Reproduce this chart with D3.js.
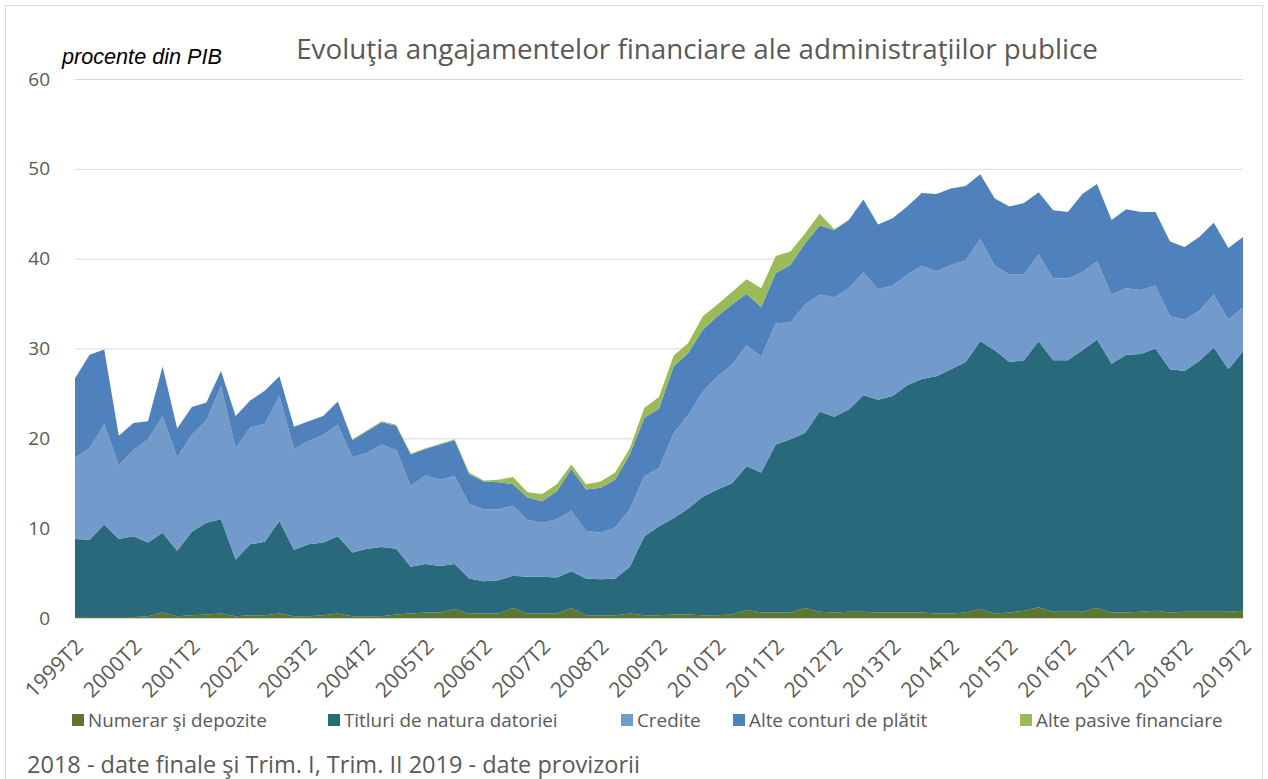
<!DOCTYPE html>
<html>
<head>
<meta charset="utf-8">
<script src="https://cdn.jsdelivr.net/npm/d3@7"></script>
<style>
  body { margin: 0; background: #fff; }
  svg { display: block; font-family: "Liberation Sans", Arial, sans-serif; }
</style>
</head>
<body>
<div id="chart"></div>
<script>
// quarters, 1999T2 .. 2019T2
const quarters = [
  '1999T2','1999T3','1999T4',
  '2000T1','2000T2','2000T3','2000T4','2001T1','2001T2','2001T3','2001T4',
  '2002T1','2002T2','2002T3','2002T4','2003T1','2003T2','2003T3','2003T4',
  '2004T1','2004T2','2004T3','2004T4','2005T1','2005T2','2005T3','2005T4',
  '2006T1','2006T2','2006T3','2006T4','2007T1','2007T2','2007T3','2007T4',
  '2008T1','2008T2','2008T3','2008T4','2009T1','2009T2','2009T3','2009T4',
  '2010T1','2010T2','2010T3','2010T4','2011T1','2011T2','2011T3','2011T4',
  '2012T1','2012T2','2012T3','2012T4','2013T1','2013T2','2013T3','2013T4',
  '2014T1','2014T2','2014T3','2014T4','2015T1','2015T2','2015T3','2015T4',
  '2016T1','2016T2','2016T3','2016T4','2017T1','2017T2','2017T3','2017T4',
  '2018T1','2018T2','2018T3','2018T4','2019T1','2019T2'
];

const tickLabels = ['1999T2','2000T2','2001T2','2002T2','2003T2','2004T2','2005T2',
  '2006T2','2007T2','2008T2','2009T2','2010T2','2011T2','2012T2','2013T2','2014T2',
  '2015T2','2016T2','2017T2','2018T2','2019T2'];

const yTicks = [0, 10, 20, 30, 40, 50, 60];

// % of GDP
const numerar = [
  0.1,0.1,0.1, 0.1,0.1,0.2,0.6,0.2,0.3,0.4,0.5, 0.2,0.3,0.3,0.5,0.2,0.2,0.3,0.5,
  0.2,0.2,0.2,0.4,0.5,0.6,0.6,1.0, 0.5,0.5,0.5,1.1,0.5,0.5,0.5,1.1,
  0.3,0.3,0.3,0.5,0.3,0.3,0.4,0.4, 0.3,0.3,0.4,0.9,0.6,0.6,0.6,1.1,
  0.7,0.6,0.7,0.7,0.6,0.6,0.6,0.6, 0.5,0.5,0.6,1.0,0.5,0.6,0.8,1.2,
  0.7,0.7,0.7,1.1,0.6,0.6,0.7,0.8, 0.6,0.7,0.7,0.7,0.7,0.8
];
const titluri = [
  8.7,8.6,10.3, 8.7,9.0,8.2,8.9,7.3,9.3,10.2,10.5, 6.3,7.9,8.2,10.3,7.4,8.0,8.1,8.6,
  7.1,7.5,7.7,7.3,5.2,5.4,5.2,5.0, 3.9,3.6,3.7,3.6,4.1,4.1,4.0,4.1,
  4.1,4.0,4.1,5.2,8.8,9.9,10.7,11.8, 13.2,14.0,14.6,16.0,15.6,18.7,19.3,19.5,
  22.3,21.8,22.5,24.1,23.7,24.1,25.3,26.0, 26.4,27.2,27.9,29.8,29.3,27.9,27.9,29.6,
  28.0,28.0,29.1,29.9,27.7,28.7,28.7,29.2, 27.1,26.8,27.9,29.4,27.0,28.9
];
const credite = [
  9.0,10.2,11.2, 8.2,9.6,11.5,13.0,10.4,10.8,11.4,14.8, 12.4,13.0,13.1,13.9,11.2,11.5,12.0,12.4,
  10.6,10.7,11.4,11.0,9.0,9.9,9.6,9.8, 8.3,8.0,7.9,7.8,6.3,6.0,6.5,6.7,
  5.3,5.2,5.7,6.4,6.7,6.5,9.5,10.4, 11.7,12.6,13.2,13.5,12.9,13.5,13.0,14.3,
  13.0,13.3,13.5,13.7,12.3,12.3,12.3,12.6, 11.7,11.6,11.3,11.4,9.4,9.7,9.6,9.7,
  9.1,9.1,8.7,8.7,7.7,7.4,7.1,7.0, 5.9,5.7,5.6,5.9,5.5,4.9
];
const alteConturi = [
  8.9,10.4,8.3, 3.3,3.0,2.0,5.5,3.2,3.1,2.0,1.7, 3.6,3.0,3.7,2.2,2.5,2.2,2.1,2.6,
  1.9,2.4,2.5,2.7,3.5,2.9,3.9,4.0, 3.3,3.1,3.0,2.4,2.5,2.4,3.1,4.7,
  4.6,5.0,5.3,6.1,6.5,6.6,7.4,6.9, 6.9,6.7,6.7,5.7,5.5,5.6,6.4,6.8,
  7.7,7.5,7.6,8.1,7.2,7.5,7.6,8.1, 8.6,8.5,8.3,7.2,7.5,7.6,7.9,6.9,
  7.6,7.4,8.7,8.6,8.3,8.8,8.7,8.2, 8.3,8.1,8.2,8.0,8.0,7.8
];
const altePasive = [
  0,0,0, 0,0,0,0,0,0,0,0, 0,0,0,0,0,0,0,0,
  0.1,0.1,0.1,0.1,0.1,0.1,0.1,0.1, 0.2,0.1,0.3,0.8,0.6,0.8,0.8,0.5,
  0.6,0.7,0.8,0.7,1.1,1.3,1.2,1.1, 1.5,1.3,1.4,1.6,2.1,1.9,1.5,1.1,
  1.3,0.1,0,0,0,0,0,0, 0,0,0,0,0,0,0,0,
  0,0,0,0,0,0,0,0, 0,0,0,0,0,0
];

const seriesNames = ['Numerar şi depozite', 'Titluri de natura datoriei', 'Credite',
  'Alte conturi de plătit', 'Alte pasive financiare'];
const seriesValues = [numerar, titluri, credite, alteConturi, altePasive];
const colors = ['#5f7632', '#286a7b', '#729aca', '#4f81bd', '#9bbb59'];

const W = 1268, H = 779;
const plot = { left: 75, right: 1243, top: 79, bottom: 618 };
const sans = '"Open Sans", sans-serif';

const svg = d3.select('#chart').append('svg')
  .attr('width', W).attr('height', H);

// chart border
svg.append('rect')
  .attr('x', 5.5).attr('y', 5.5).attr('width', W - 11).attr('height', H + 20)
  .attr('fill', 'none').attr('stroke', '#d9d9d9');

const x = d3.scaleLinear().domain([0, quarters.length - 1]).range([plot.left, plot.right]);
const y = d3.scaleLinear().domain([0, 60]).range([plot.bottom, plot.top]);

// gridlines
svg.append('g').selectAll('line')
  .data(yTicks)
  .join('line')
  .attr('x1', plot.left).attr('x2', plot.right)
  .attr('y1', d => y(d) + 0.5).attr('y2', d => y(d) + 0.5)
  .attr('stroke', '#d9d9d9').attr('stroke-width', 1);

// stacked areas
const rows = quarters.map((q, i) => {
  const r = { q, i };
  seriesNames.forEach((s, k) => { r[s] = seriesValues[k][i]; });
  return r;
});
const stacked = d3.stack().keys(seriesNames)(rows);

const area = d3.area()
  .x(d => x(d.data.i))
  .y0(d => y(d[0]))
  .y1(d => y(d[1]));

svg.append('g').selectAll('path')
  .data(stacked)
  .join('path')
  .attr('d', area)
  .attr('fill', (d, k) => colors[k]);

// y axis labels
const yAxis = svg.append('g')
  .attr('transform', `translate(${plot.left - 25},0)`)
  .call(d3.axisLeft(y).tickValues(yTicks).tickSize(0).tickPadding(0));
yAxis.select('.domain').remove();
yAxis.selectAll('text')
  .attr('fill', '#595959')
  .style('font-size', '19px')
  .style('font-family', sans);

// x axis labels, rotated
const tickIdx = tickLabels.map(t => quarters.indexOf(t));
const xAxis = svg.append('g')
  .attr('transform', `translate(0,${plot.bottom})`)
  .call(d3.axisBottom(x).tickValues(tickIdx).tickSize(0)
    .tickFormat(i => quarters[i]));
xAxis.select('.domain').remove();
xAxis.selectAll('text')
  .attr('fill', '#595959')
  .style('font-size', '21px')
  .style('font-family', sans)
  .attr('text-anchor', 'end')
  .attr('dy', null).attr('y', 0)
  .attr('transform', 'translate(9,30) rotate(-45)');

// title
const title = svg.append('text')
  .attr('x', 697).attr('y', 59)
  .attr('text-anchor', 'middle')
  .attr('fill', '#595959')
  .style('font-family', sans)
  .style('font-size', '24px')
  .text('Evoluţia angajamentelor financiare ale administraţiilor publice');
fitWidth(title, 802);

const unit = svg.append('text')
  .attr('x', 62).attr('y', 64)
  .attr('fill', '#000')
  .style('font-style', 'italic')
  .style('font-size', '18px')
  .text('procente din PIB');
fitWidth(unit, 160);

// legend
const legendX = [72, 328, 621, 733, 1020];
const legend = svg.append('g').selectAll('g')
  .data(seriesNames)
  .join('g')
  .attr('transform', (d, k) => `translate(${legendX[k]},714)`);
legend.append('rect')
  .attr('width', 12).attr('height', 12)
  .attr('fill', (d, k) => colors[k]);
const legendText = legend.append('text')
  .attr('x', 16).attr('y', 12.5)
  .attr('fill', '#595959')
  .style('font-family', sans)
  .style('font-size', '17px')
  .text(d => d);
fitWidth(d3.select(legendText.nodes()[0]), 179);
legendText.style('font-size', d3.select(legendText.nodes()[0]).style('font-size'));

// footnote
const note = svg.append('text')
  .attr('x', 27).attr('y', 773)
  .attr('fill', '#595959')
  .style('font-family', sans)
  .style('font-size', '21px')
  .text('2018 - date finale şi Trim. I, Trim. II 2019 - date provizorii');
fitWidth(note, 613);

function fitWidth(sel, target) {
  const w = sel.node().getComputedTextLength();
  const fs = parseFloat(sel.style('font-size'));
  sel.style('font-size', (fs * target / w).toFixed(2) + 'px');
}
</script>
</body>
</html>
